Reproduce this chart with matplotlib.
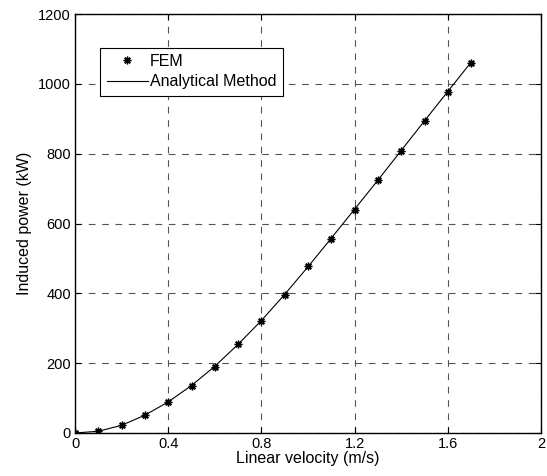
import matplotlib
matplotlib.use("Agg")
import matplotlib.pyplot as plt

plt.rcParams['font.family'] = ['Liberation Sans', 'DejaVu Sans']

# Induced power vs. linear velocity
velocity = [0.0, 0.1, 0.2, 0.3, 0.4, 0.5, 0.6, 0.7, 0.8, 0.9,
            1.0, 1.1, 1.2, 1.3, 1.4, 1.5, 1.6, 1.7]
power_fem = [0, 5, 23, 52, 88, 135, 190, 255, 322, 396,
             477, 557, 640, 725, 809, 893, 976, 1061]
power_analytical = [0, 5, 22, 51, 89, 136, 191, 254, 322, 397,
                    476, 558, 641, 724, 809, 894, 978, 1062]

x_ticks = [0, 0.4, 0.8, 1.2, 1.6, 2]
x_tick_labels = ['0', '0.4', '0.8', '1.2', '1.6', '2']
y_ticks = [0, 200, 400, 600, 800, 1000, 1200]

fig = plt.figure(figsize=(5.47, 4.76), dpi=100)
ax = fig.add_axes([75 / 547, 1 - 433 / 476, 466 / 547, 419 / 476])

ax.plot(velocity, power_fem, linestyle='none', marker=(8, 2, 0), color='black',
        markersize=5.5, markeredgewidth=1.0, label='FEM')
ax.plot(velocity, power_analytical, color='black', linewidth=0.8,
        label='Analytical Method')

ax.set_xlim(0, 2)
ax.set_ylim(0, 1200)
ax.set_xticks(x_ticks)
ax.set_xticklabels(x_tick_labels)
ax.set_yticks(y_ticks)
ax.tick_params(direction='in', labelsize=10.5, length=4, width=0.8, pad=3,
               top=True, right=True)
ax.grid(True, linestyle=(0, (6, 6)), color='#555555', linewidth=0.8)
for spine in ax.spines.values():
    spine.set_linewidth(1.0)

ax.set_xlabel('Linear velocity (m/s)', fontsize=11.5, labelpad=0)
ax.set_ylabel('Induced power (kW)', fontsize=11.5, labelpad=4)

leg = ax.legend(loc='upper left', bbox_to_anchor=(0.054, 0.92), fontsize=11.5,
                frameon=True, fancybox=False, edgecolor='black',
                framealpha=1, borderaxespad=0, handlelength=2.6,
                handletextpad=0.1, borderpad=0.4, labelspacing=0.35)
leg.get_frame().set_linewidth(0.8)

fig.savefig('out.png', dpi=100)
